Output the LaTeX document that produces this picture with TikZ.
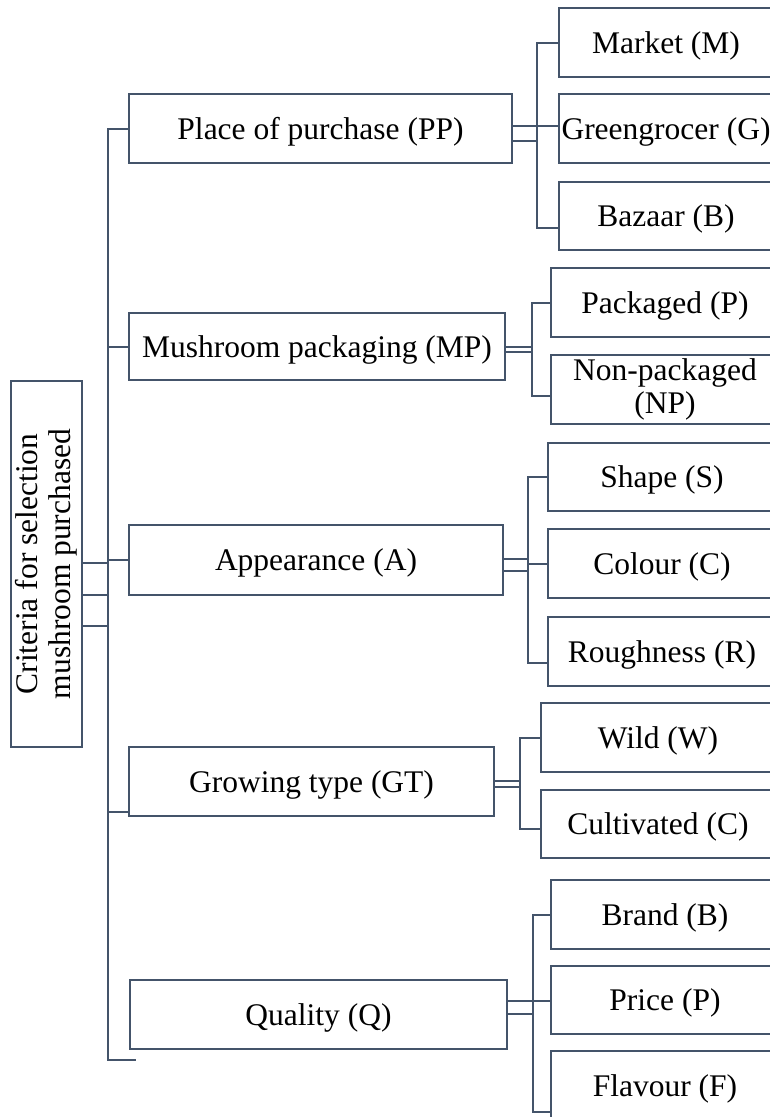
\documentclass[tikz,border=0pt]{standalone}
\usepackage{fontspec}
\setmainfont{Liberation Serif}
\definecolor{ln}{HTML}{44546A}
\tikzset{
  box/.style={draw=ln, line width=2pt, fill=white, inner sep=0pt, align=center,
    font=\fontsize{31.5}{33}\selectfont},
  one/.style={text height=21pt, text depth=0pt},
  leaf/.style={box, anchor=west},
  conn/.style={draw=ln, line width=2pt, line join=miter},
}
\begin{document}
\begin{tikzpicture}[x=1pt,y=-1pt]
\useasboundingbox (0,0) rectangle (770,1117);
\clip (0,0) rectangle (770,1117);
% root
\node[box, rotate=90, minimum width=366pt, minimum height=71pt] (root) at (46.5,564) {Criteria for selection\\mushroom purchased};
% level 1
\node[box, one, minimum width=383pt, minimum height=69pt] (PP) at (320.5,128.5) {Place of purchase (PP)};
\node[box, one, minimum width=376pt, minimum height=67pt] (MP) at (317,346.5) {Mushroom packaging (MP)};
\node[box, one, minimum width=374pt, minimum height=70pt] (A) at (316,560) {Appearance (A)};
\node[box, one, minimum width=365pt, minimum height=69pt] (GT) at (311.5,781.5) {Growing type (GT)};
\node[box, one, minimum width=377pt, minimum height=69pt] (Q) at (318.5,1014.5) {Quality (Q)};
% leaves
\node[leaf, one, minimum width=214pt, minimum height=69pt] (M) at (558,42.5) {Market (M)};
\node[leaf, one, minimum width=214pt, minimum height=69pt] (G) at (558,128.5) {Greengrocer (G)};
\node[leaf, one, minimum width=214pt, minimum height=68pt] (B) at (558,216) {Bazaar (B)};
\node[leaf, one, minimum width=228pt, minimum height=69pt] (P) at (550,302.5) {Packaged (P)};
\node[leaf, minimum width=228pt, minimum height=69pt] (NP) at (550,389.5) {Non-packaged\\(NP)};
\node[leaf, one, minimum width=228pt, minimum height=68pt] (S) at (547,477) {Shape (S)};
\node[leaf, one, minimum width=228pt, minimum height=69pt] (C) at (547,563.5) {Colour (C)};
\node[leaf, one, minimum width=228pt, minimum height=69pt] (R) at (547,651.5) {Roughness (R)};
\node[leaf, one, minimum width=234pt, minimum height=69pt] (W) at (540,737.5) {Wild (W)};
\node[leaf, one, minimum width=234pt, minimum height=68pt] (CU) at (540,824) {Cultivated (C)};
\node[leaf, one, minimum width=228pt, minimum height=69pt] (BR) at (550,914.5) {Brand (B)};
\node[leaf, one, minimum width=228pt, minimum height=68pt] (PR) at (550,1000) {Price (P)};
\node[leaf, one, minimum width=228pt, minimum height=69pt] (F) at (550,1085.5) {Flavour (F)};
% trunk coordinates
\coordinate (tbot) at (108,1060);
\coordinate (stub) at (136,1060);
\coordinate (r1) at (108,563);
\coordinate (r2) at (108,595);
\coordinate (r3) at (108,626);
\coordinate (gtc) at (108,812);
% trunk
\draw[conn] (PP.west) -- (PP.west -| tbot) -- (tbot) -- (stub);
\draw[conn] (root.south |- r1) -- (r1);
\draw[conn] (root.south |- r2) -- (r2);
\draw[conn] (root.south |- r3) -- (r3);
\draw[conn] (MP.west -| tbot) -- (MP.west);
\draw[conn] (A.west -| tbot) -- (A.west);
\draw[conn] (gtc) -- (gtc -| GT.west);
% PP group
\coordinate (pp1) at (537,43);
\coordinate (pp2) at (537,228);
\coordinate (pph1) at (537,126);
\coordinate (pph2) at (537,141);
\draw[conn] (pph1 -| PP.east) -- (pph1 -| G.west);
\draw[conn] (pph2 -| PP.east) -- (pph2);
\draw[conn] (pp1 -| M.west) -- (pp1) -- (pp2) -- (pp2 -| B.west);
% MP group
\coordinate (mp1) at (532,303);
\coordinate (mp2) at (532,396);
\coordinate (mph1) at (532,347);
\coordinate (mph2) at (532,352);
\draw[conn] (mph1 -| MP.east) -- (mph1);
\draw[conn] (mph2 -| MP.east) -- (mph2);
\draw[conn] (mp1 -| P.west) -- (mp1) -- (mp2) -- (mp2 -| NP.west);
% A group
\coordinate (a1) at (528,477);
\coordinate (a2) at (528,663);
\coordinate (ah1) at (528,559);
\coordinate (ah2) at (528,571);
\coordinate (ac) at (528,564);
\draw[conn] (ah1 -| A.east) -- (ah1);
\draw[conn] (ah2 -| A.east) -- (ah2);
\draw[conn] (ac) -- (ac -| C.west);
\draw[conn] (a1 -| S.west) -- (a1) -- (a2) -- (a2 -| R.west);
% GT group
\coordinate (g1) at (520,738);
\coordinate (g2) at (520,829);
\coordinate (gh1) at (520,781);
\coordinate (gh2) at (520,787);
\draw[conn] (gh1 -| GT.east) -- (gh1);
\draw[conn] (gh2 -| GT.east) -- (gh2);
\draw[conn] (g1 -| W.west) -- (g1) -- (g2) -- (g2 -| CU.west);
% Q group
\coordinate (q1) at (533,915);
\coordinate (q2) at (533,1112);
\coordinate (qh1) at (533,1001);
\coordinate (qh2) at (533,1014);
\draw[conn] (qh1 -| Q.east) -- (qh1 -| PR.west);
\draw[conn] (qh2 -| Q.east) -- (qh2);
\draw[conn] (q1 -| BR.west) -- (q1) -- (q2) -- (q2 -| F.west);
\end{tikzpicture}
\end{document}
